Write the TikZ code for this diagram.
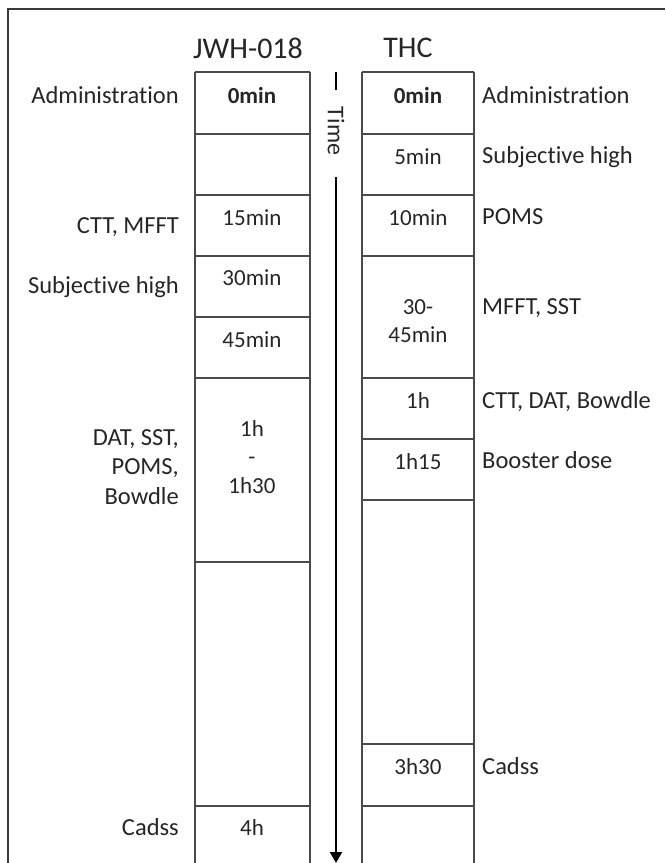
\documentclass[tikz,border=0pt]{standalone}
\usepackage{fontspec}
\setmainfont{Carlito}[Ligatures=NoCommon]
\usepackage{xcolor}
\usetikzlibrary{arrows.meta, positioning}
\definecolor{mygrid}{HTML}{4A4A4A}
\definecolor{mytext}{HTML}{262626}
\definecolor{myframe}{HTML}{3A3A3A}
\tikzset{
cellline/.style={
draw=mygrid,
line width=1.4pt
},
framebox/.style={
draw=myframe,
line width=1.4pt
},
celltext/.style={
font=\fontsize{23}{28.5}\selectfont,
text=mytext,
align=center,
inner sep=0pt
},
labelleft/.style={
font=\fontsize{24.5}{29.5}\selectfont,
text=mytext,
align=right,
inner sep=0pt
},
labelright/.style={
font=\fontsize{24.5}{29.5}\selectfont,
text=mytext,
align=left,
inner sep=0pt
},
heading/.style={
font=\fontsize{30}{36}\selectfont,
text=mytext,
inner sep=0pt
},
timearrow/.style={
-{Triangle[length=11pt,width=12pt]},
line width=2.4pt,
draw=black
}
}

\begin{document}
\begin{tikzpicture}[x=1pt, y=-1pt]
\useasboundingbox (0,0) rectangle (665,863);

\draw[framebox] (8,863) -- (8,9) -- (665,9);

\node[heading] (jwh) at (248,48) {JWH-018};
\node[heading] (thc) at (408,48) {THC};

% JWH-018 column
\draw[cellline] (195,72) -- (195,863);
\draw[cellline] (310,72) -- (310,863);
\foreach \y in {72,134,195,256,317,378,562,806} {
  \draw[cellline] (195,\y) -- (310,\y);
}
\node[celltext, font=\fontsize{23}{28.5}\selectfont\bfseries, anchor=mid] (jzero) at (252,101) {0min};
\node[celltext, anchor=mid] (jfifteen) at (252,223) {15min};
\node[celltext, anchor=mid] (jthirty) at (252,283) {30min};
\node[celltext, anchor=mid] (jfortyfive) at (252,345) {45min};
\node[celltext] (jhour) at (252,457) {1h\\-\\1h30};
\node[celltext, anchor=mid] (jfour) at (252,833) {4h};

\node[labelleft, anchor=mid east] (jadmin) at (179,101) {Administration};
\node[labelleft, anchor=mid east] (jctt) at (179,231) {CTT, MFFT};
\node[labelleft, anchor=mid east] (jhigh) at (179,291) {Subjective high};
\node[labelleft, anchor=east] (jdat) at (179,467) {DAT, SST,\\POMS,\\Bowdle};
\node[labelleft, anchor=mid east] (jcadss) at (179,833) {Cadss};

% THC column
\draw[cellline] (362,72) -- (362,863);
\draw[cellline] (474,72) -- (474,863);
\foreach \y in {72,134,195,256,378,439,500,744,806} {
  \draw[cellline] (362,\y) -- (474,\y);
}
\node[celltext, font=\fontsize{23}{28.5}\selectfont\bfseries, anchor=mid] (tzero) at (418,101) {0min};
\node[celltext, anchor=mid] (tfive) at (418,162) {5min};
\node[celltext, anchor=mid] (tten) at (418,223) {10min};
\node[celltext] (tthirty) at (418,321) {30-\\45min};
\node[celltext, anchor=mid] (thour) at (418,406) {1h};
\node[celltext, anchor=mid] (tquarter) at (418,467) {1h15};
\node[celltext, anchor=mid] (tthree) at (418,772) {3h30};

\node[labelright, anchor=mid west] (tadmin) at (482,101) {Administration};
\node[labelright, anchor=mid west] (thigh) at (482,161) {Subjective high};
\node[labelright, anchor=mid west] (tpoms) at (482,222) {POMS};
\node[labelright, anchor=mid west] (tmfft) at (482,312) {MFFT, SST};
\node[labelright, anchor=mid west] (tctt) at (482,406) {CTT, DAT, Bowdle};
\node[labelright, anchor=mid west] (tbooster) at (482,466) {Booster dose};
\node[labelright, anchor=mid west] (tcadss) at (482,772) {Cadss};

% time axis
\coordinate (timetop) at (336,72);
\coordinate (timegapa) at (336,90);
\coordinate (timegapb) at (336,177);
\coordinate (timeend) at (336,863);
\node[celltext, font=\fontsize{24}{29}\selectfont, rotate=-90] (timelabel) at (336,131) {Time};
\draw[line width=2.4pt] (timetop) -- (timegapa);
\draw[timearrow] (timegapb) -- (timeend);

\end{tikzpicture}
\end{document}
